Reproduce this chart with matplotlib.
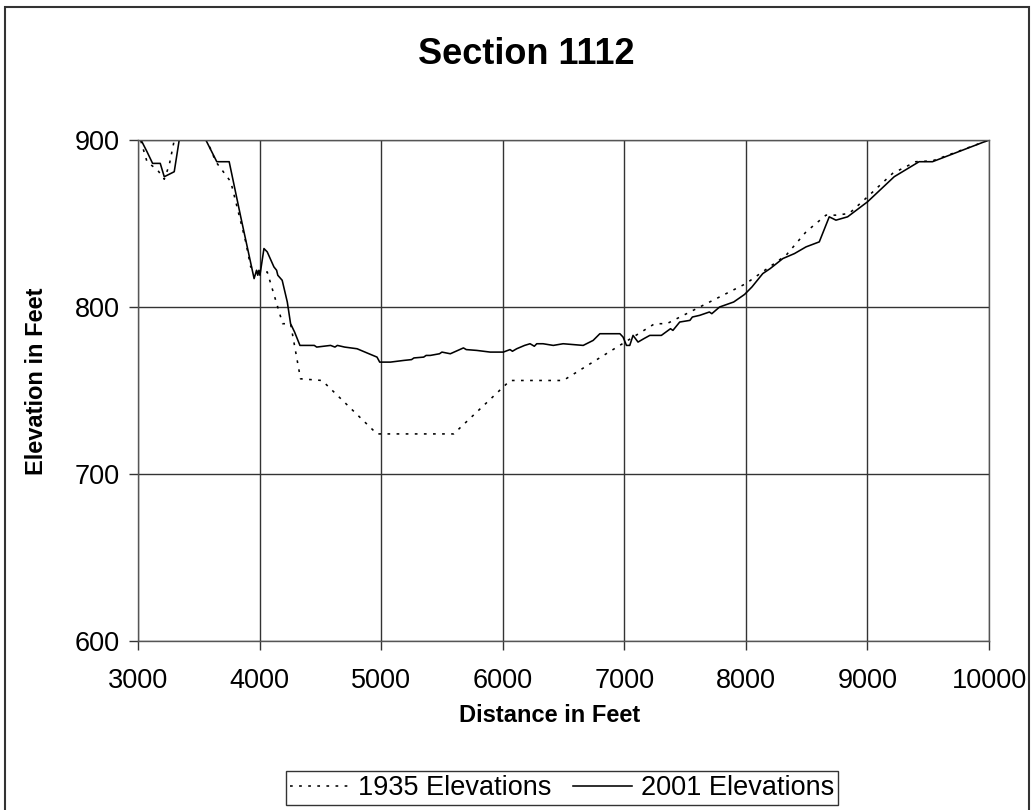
"""
section_1112.py — cross-section profile, 1935 vs 2001 elevations.
"""

import matplotlib
matplotlib.use("Agg")
import matplotlib.pyplot as plt
from matplotlib.patches import Rectangle

plt.rcParams["font.family"] = ["Liberation Sans", "DejaVu Sans"]

# ── Data ──────────────────────────────────────────────────────────────────────

DIST_1935 = [3010, 3025, 3074, 3161, 3216, 3257, 3293, 3310, 3540, 3566,
             3640, 3763, 3818, 3886, 3927, 3995, 4063, 4190, 4255, 4337,
             4514, 4966, 5596, 6061, 6498, 7250, 7350, 8000, 8331, 8495,
             8659, 8741, 8850, 9001, 9207, 9398, 9535, 10000]
ELEV_1935 = [905, 899, 887, 882, 876.5, 885, 898, 915, 915, 900,
             887, 875, 859, 839, 824, 821, 821, 790, 790, 757,
             756, 724, 724, 756, 756, 790, 790, 814, 831, 845,
             855, 855, 856, 866, 880, 887, 887.5, 900]

DIST_2001 = [3010, 3025, 3074, 3120, 3183, 3216, 3298, 3339, 3360, 3530,
             3558, 3648, 3750, 3845, 3955, 3975, 3985, 3995, 4003, 4036,
             4063, 4118, 4140, 4150, 4186, 4228, 4255, 4288, 4332, 4450,
             4470, 4584, 4620, 4640, 4700, 4802, 4900, 4966, 4988, 5076,
             5185, 5250, 5270, 5350, 5370, 5404, 5480, 5500, 5569, 5677,
             5700, 5787, 5897, 6005, 6060, 6080, 6115, 6180, 6225, 6260,
             6280, 6332, 6416, 6497, 6662, 6744, 6799, 6964, 6990, 7018,
             7045, 7072, 7113, 7160, 7210, 7305, 7380, 7400, 7456, 7540,
             7560, 7620, 7700, 7720, 7784, 7900, 7989, 8050, 8139, 8200,
             8304, 8400, 8495, 8604, 8686, 8741, 8837, 9001, 9220, 9425,
             9535, 10000]
ELEV_2001 = [905, 900, 893, 886, 886, 878, 881, 900, 915, 915,
             900, 887, 887, 854, 817, 822, 819, 822, 819, 835,
             833, 824, 822, 819, 816, 803, 790, 785, 777, 777,
             776, 777, 776, 777, 776, 775, 772, 770, 767, 767,
             768, 768.5, 769.5, 770, 771, 771, 772, 773, 772, 775.5,
             774.5, 774, 773, 773, 774.5, 773.5, 775, 777, 778, 776.5,
             778, 778, 777, 778, 777, 780, 784, 784, 782, 777,
             777, 783, 779, 781, 783, 783, 787, 786, 791, 792,
             794, 795, 797, 796, 800, 803, 807.5, 812, 820, 823,
             829, 832, 836, 839, 854, 852, 854, 863, 878, 887,
             887, 900]

X_TICKS = [3000, 4000, 5000, 6000, 7000, 8000, 9000, 10000]
Y_TICKS = [600, 700, 800, 900]

TITLE = "Section 1112"
LABEL_1935 = "1935 Elevations"
LABEL_2001 = "2001 Elevations"


def main():
    fig = plt.figure(figsize=(10.34, 8.10), dpi=100)
    ax = fig.add_axes([138 / 1034, 1 - 641 / 810, (989 - 138) / 1034, (641 - 140) / 810])

    ax.plot(DIST_1935, ELEV_1935, color="black", linewidth=1.15,
            linestyle=(0, (1.7, 4.0)), label=LABEL_1935)
    ax.plot(DIST_2001, ELEV_2001, color="black", linewidth=1.15,
            linestyle="-", label=LABEL_2001)

    ax.set_xlim(3000, 10000)
    ax.set_ylim(600, 900)
    ax.set_xticks(X_TICKS)
    ax.set_yticks(Y_TICKS)
    ax.tick_params(direction="out", length=6.2, width=1, labelsize=19.5, color="#333333")
    ax.tick_params(axis="x", pad=13)
    ax.tick_params(axis="y", pad=7)
    ax.grid(True, color="#333333", linewidth=1.0)
    ax.set_axisbelow(True)
    for sp in ax.spines.values():
        sp.set_color("#555555")
        sp.set_linewidth(1.0)

    fig.text(526 / 1034, 1 - 55 / 810, TITLE, ha="center", va="center",
             fontsize=26, fontweight="bold")
    fig.text(550 / 1034, 1 - 715 / 810, "Distance in Feet", ha="center", va="center",
             fontsize=17, fontweight="bold")
    fig.text(37 / 1034, 1 - 381 / 810, "Elevation in Feet", ha="center", va="center",
             fontsize=17, fontweight="bold", rotation=90)

    leg = fig.legend(loc="center", bbox_to_anchor=(562 / 1034, 1 - 788 / 810), ncol=2,
                     fontsize=19.5, frameon=True, fancybox=False, edgecolor="black",
                     handlelength=2.2, handletextpad=0.3, columnspacing=0.8,
                     borderpad=0.15, borderaxespad=0)
    leg.get_frame().set_linewidth(1.0)

    # outer chart frame
    fig.patches.append(Rectangle((4.5 / 1034, -0.01), (1029 - 4.5) / 1034, 1 - 6.5 / 810 + 0.01,
                                 transform=fig.transFigure, fill=False,
                                 edgecolor="#333333", linewidth=1.5))

    fig.savefig("out.png", dpi=100)
    plt.close(fig)


if __name__ == "__main__":
    main()
